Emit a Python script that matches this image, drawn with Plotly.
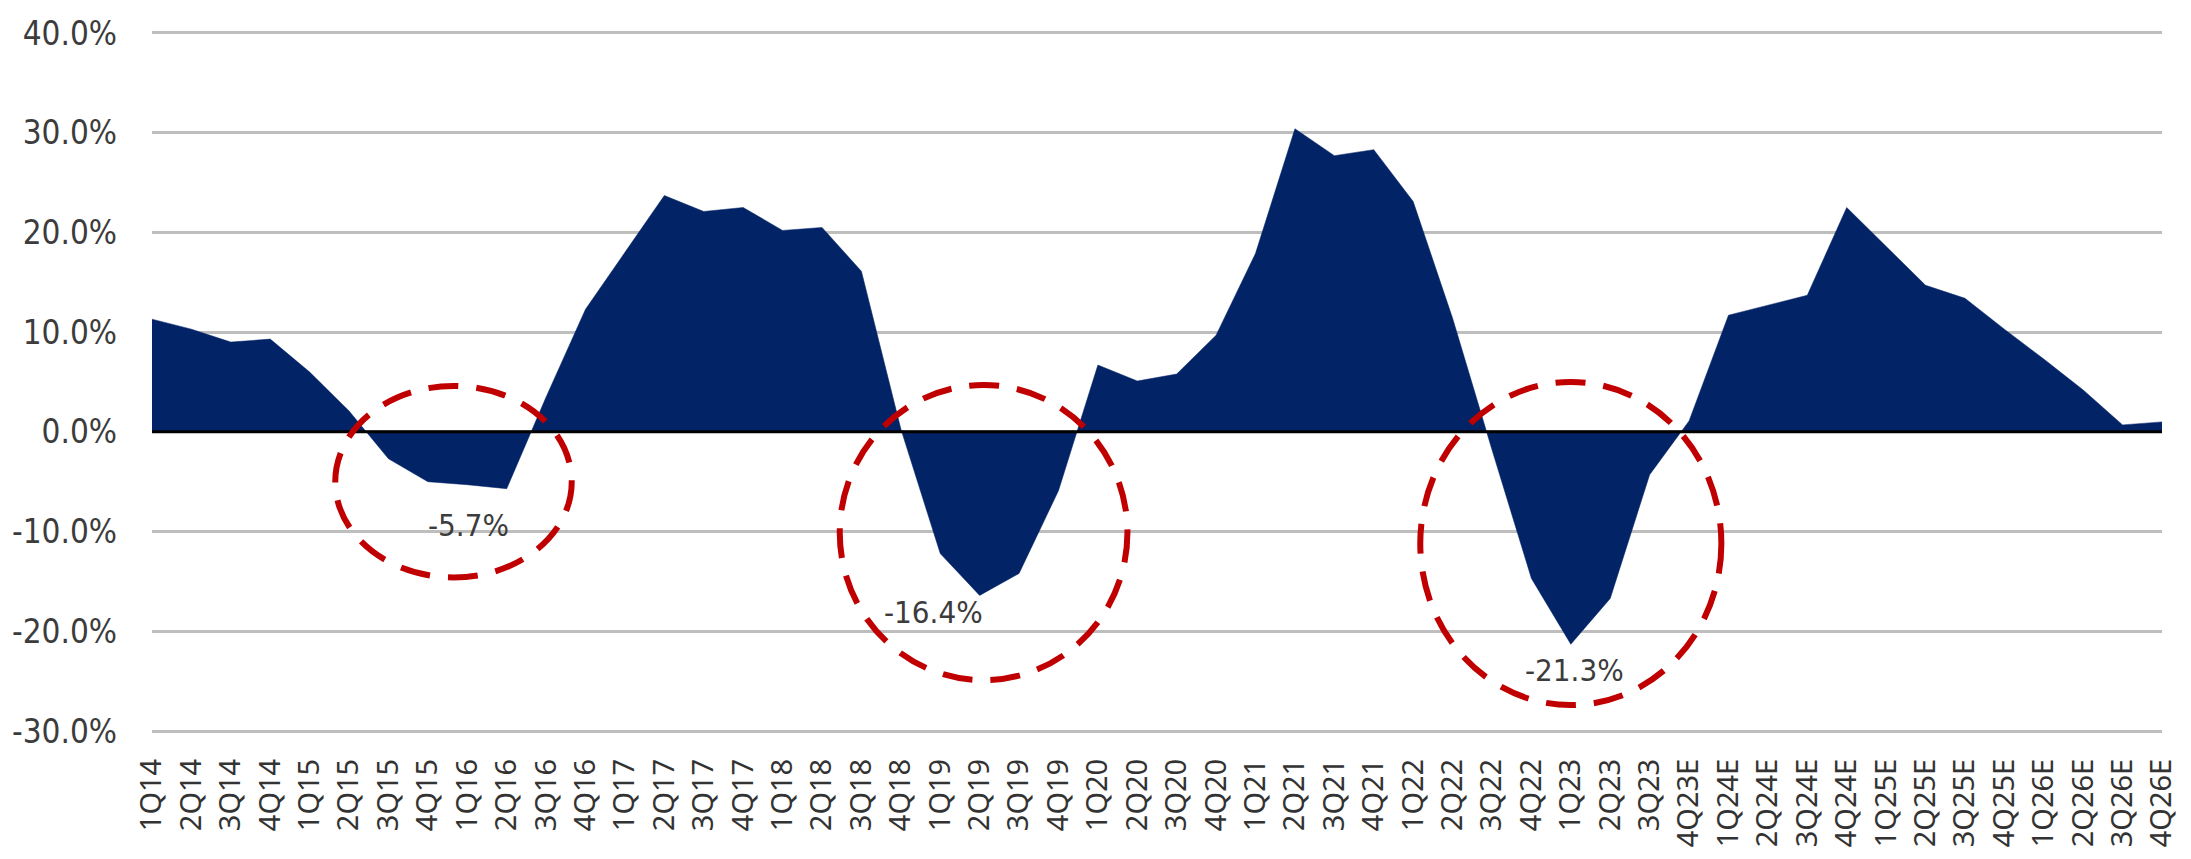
import plotly.graph_objects as go

categories = ["1Q14","2Q14","3Q14","4Q14","1Q15","2Q15","3Q15","4Q15","1Q16","2Q16","3Q16","4Q16",
              "1Q17","2Q17","3Q17","4Q17","1Q18","2Q18","3Q18","4Q18","1Q19","2Q19","3Q19","4Q19",
              "1Q20","2Q20","3Q20","4Q20","1Q21","2Q21","3Q21","4Q21","1Q22","2Q22","3Q22","4Q22",
              "1Q23","2Q23","3Q23","4Q23E","1Q24E","2Q24E","3Q24E","4Q24E","1Q25E","2Q25E","3Q25E","4Q25E",
              "1Q26E","2Q26E","3Q26E","4Q26E"]

growth = [11.3, 10.3, 9.0, 9.3, 6.0, 2.1, -2.7, -5.0, -5.3, -5.7, 3.5, 12.3,
          18.0, 23.7, 22.1, 22.5, 20.2, 20.5, 16.1, 0.3, -12.2, -16.4, -14.2, -5.9,
          6.7, 5.1, 5.8, 9.7, 17.9, 30.4, 27.7, 28.3, 23.1, 11.4, -1.8, -14.7,
          -21.3, -16.7, -4.3, 1.1, 11.7, 12.7, 13.7, 22.5, 18.6, 14.7, 13.4, 10.3,
          7.3, 4.2, 0.7, 1.0]

y_tick_values = [-30, -20, -10, 0, 10, 20, 30, 40]
y_tick_labels = ["-30.0%", "-20.0%", "-10.0%", "0.0%", "10.0%", "20.0%", "30.0%", "40.0%"]

# trough callouts: (trough category, label text, label x shift px, label y shift px)
callouts = [("2Q16", "-5.7%", -38, -36),
            ("2Q19", "-16.4%", -46, -17),
            ("1Q23", "-21.3%", 4, -26)]

# dashed circles: (center category index, center y, x radius in categories, y radius in %)
circles = [(7.65, -5.0, 3.0, 9.6),
           (21.1, -10.1, 3.65, 14.8),
           (36.0, -11.2, 3.82, 16.2)]

NAVY = "#022366"
RED = "#C00000"
TXT = "#3c3c3c"
CONDENSED = "Liberation Sans Narrow, DejaVu Sans Condensed, Arial Narrow, sans-serif"

fig = go.Figure()
fig.add_trace(go.Scatter(
    x=categories, y=growth, mode="lines", fill="tozeroy",
    fillcolor=NAVY, line=dict(color=NAVY, width=0.5), hoverinfo="skip", showlegend=False))

# zero line above the area
fig.add_shape(type="line", xref="paper", x0=0, x1=1, yref="y", y0=0, y1=0,
              line=dict(color="black", width=3), layer="above")

for cx, cy, rx, ry in circles:
    fig.add_shape(type="circle", xref="x", yref="y",
                  x0=cx - rx, x1=cx + rx, y0=cy - ry, y1=cy + ry,
                  line=dict(color=RED, width=6, dash="30px,18px"), layer="above")

for cat, text, xs, ys in callouts:
    val = growth[categories.index(cat)]
    fig.add_annotation(x=cat, y=val, text=text, showarrow=False, xshift=xs, yshift=ys,
                       font=dict(family=CONDENSED, size=31, color=TXT))

fig.update_layout(
    width=2191, height=859,
    margin=dict(l=147, r=17, t=28, b=122),
    paper_bgcolor="white", plot_bgcolor="white",
    xaxis=dict(type="category", range=[0, len(categories) - 1], showgrid=False, zeroline=False,
               tickangle=-90, ticks="", ticklabelstandoff=16,
               tickfont=dict(family="Noto Sans, Open Sans, sans-serif", size=29, color="#333333")),
    yaxis=dict(range=[-30.5, 40.5], tickvals=y_tick_values, ticktext=y_tick_labels,
               showgrid=True, gridcolor="#BEBEBE", gridwidth=3, zeroline=False,
               ticks="", ticklabelstandoff=34,
               tickfont=dict(family=CONDENSED, size=33, color=TXT)),
)

fig.write_html("out.html")
